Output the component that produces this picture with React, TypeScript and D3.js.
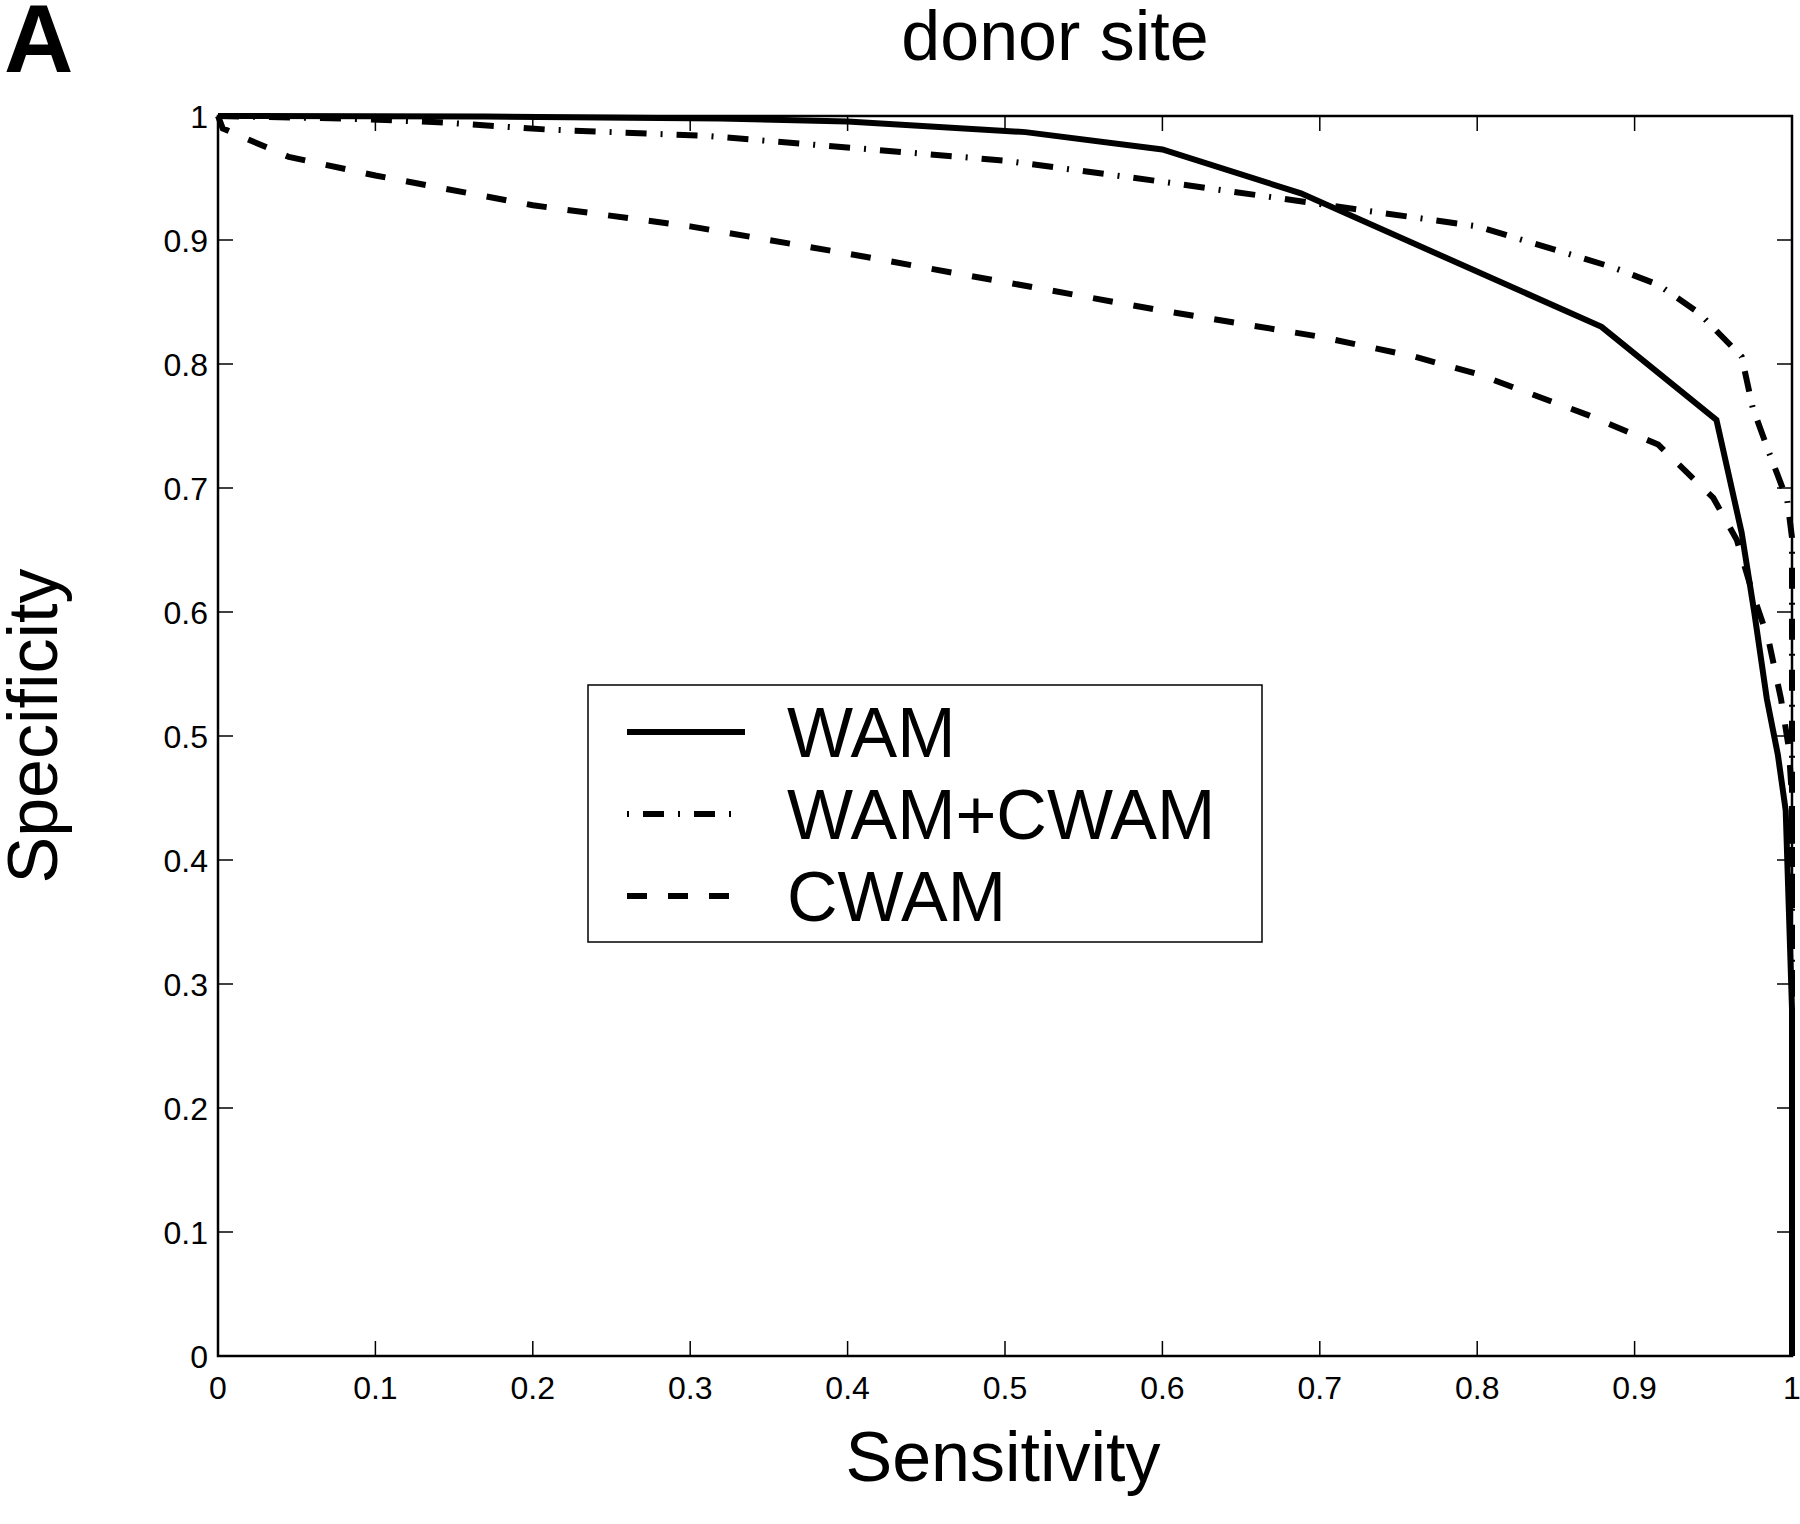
import React from "react";
import * as d3 from "d3";

// ---- data ----
const xTicks = [0, 0.1, 0.2, 0.3, 0.4, 0.5, 0.6, 0.7, 0.8, 0.9, 1];
const yTicks = [0, 0.1, 0.2, 0.3, 0.4, 0.5, 0.6, 0.7, 0.8, 0.9, 1];
const tickLabels = ["0", "0.1", "0.2", "0.3", "0.4", "0.5", "0.6", "0.7", "0.8", "0.9", "1"];

const wamSens = [0, 0.17, 0.319, 0.4, 0.513, 0.6, 0.688, 0.879, 0.952, 0.968, 0.976, 0.984, 0.991, 0.996, 0.998, 1, 1];
const wamSpec = [1, 0.9995, 0.998, 0.9955, 0.987, 0.973, 0.9376, 0.83, 0.755, 0.664, 0.6, 0.53, 0.485, 0.44, 0.36, 0.28, 0];

const comboSens = [0, 0.08, 0.14, 0.21, 0.31, 0.406, 0.5, 0.6, 0.7, 0.8, 0.855, 0.886, 0.915, 0.941, 0.968, 0.975, 0.985, 0.997, 1, 1];
const comboSpec = [1, 0.998, 0.995, 0.989, 0.984, 0.974, 0.964, 0.947, 0.929, 0.911, 0.89, 0.878, 0.864, 0.841, 0.806, 0.765, 0.73, 0.69, 0.66, 0];

const cwamSens = [0, 0.003, 0.045, 0.1, 0.2, 0.3, 0.4, 0.5, 0.6, 0.7, 0.76, 0.8, 0.87, 0.915, 0.95, 0.965, 0.975, 0.985, 0.993, 0.998, 1, 1];
const cwamSpec = [1, 0.99, 0.967, 0.952, 0.928, 0.911, 0.889, 0.866, 0.843, 0.822, 0.806, 0.792, 0.759, 0.735, 0.692, 0.658, 0.615, 0.578, 0.53, 0.49, 0.45, 0];

const seriesNames = ["WAM", "WAM+CWAM", "CWAM"];

const FONT = "'Liberation Sans', Arial, Helvetica, sans-serif";

export default function App() {
  const W = 1800;
  const H = 1524;
  const x = d3.scaleLinear().domain([0, 1]).range([218, 1792]);
  const y = d3.scaleLinear().domain([0, 1]).range([1356, 116]);
  const line = d3
    .line<[number, number]>()
    .x((d) => x(d[0]))
    .y((d) => y(d[1]));

  const zip = (a: number[], b: number[]) => a.map((v, i) => [v, b[i]] as [number, number]);

  const series = [
    { name: seriesNames[0], pts: zip(wamSens, wamSpec), dash: "none" },
    { name: seriesNames[1], pts: zip(comboSens, comboSpec), dash: "21,14,2,14" },
    { name: seriesNames[2], pts: zip(cwamSens, cwamSpec), dash: "20,21" },
  ];

  const x0 = x(0), x1 = x(1), y0 = y(0), y1 = y(1);
  const tickLen = 15;

  const legX = 588, legY = 685, legW = 674, legH = 257;
  const rowY = [732, 814, 896];

  return (
    <svg
      width={W}
      height={H}
      viewBox={`0 0 ${W} ${H}`}
      style={{ position: "absolute", left: 0, top: 0, display: "block", background: "#fff" }}
      fontFamily={FONT}
    >
      <rect x={0} y={0} width={W} height={H} fill="#fff" />
      {/* panel letter and title */}
      <text x={4} y={72} fontSize={96} fontWeight="bold" fill="#000">A</text>
      <text x={1055} y={60} fontSize={70} textAnchor="middle" fill="#000">donor site</text>

      {/* ticks */}
      <g stroke="#000" strokeWidth={1.5}>
        {xTicks.map((t, i) => (
          <g key={"xt" + i}>
            <line x1={x(t)} x2={x(t)} y1={y0} y2={y0 - tickLen} />
            <line x1={x(t)} x2={x(t)} y1={y1} y2={y1 + tickLen} />
          </g>
        ))}
        {yTicks.map((t, i) => (
          <g key={"yt" + i}>
            <line x1={x0} x2={x0 + tickLen} y1={y(t)} y2={y(t)} />
            <line x1={x1} x2={x1 - tickLen} y1={y(t)} y2={y(t)} />
          </g>
        ))}
      </g>

      {/* tick labels */}
      <g fontSize={32} fill="#000">
        {xTicks.map((t, i) => (
          <text key={"xl" + i} x={x(t)} y={1399} textAnchor="middle">{tickLabels[i]}</text>
        ))}
        {yTicks.map((t, i) => (
          <text key={"yl" + i} x={208} y={y(t) + 11.5} textAnchor="end">{tickLabels[i]}</text>
        ))}
      </g>

      {/* series */}
      <g fill="none" stroke="#000" strokeWidth={6} strokeLinejoin="miter" strokeLinecap="butt">
        {series.map((s) => (
          <path key={s.name} d={line(s.pts) || ""} strokeDasharray={s.dash} />
        ))}
      </g>

      {/* frame */}
      <rect x={x0} y={y1} width={x1 - x0} height={y0 - y1} fill="none" stroke="#000" strokeWidth={2.5} />

      {/* axis labels */}
      <text x={1003} y={1481} fontSize={70} textAnchor="middle" fill="#000">Sensitivity</text>
      <text
        transform={`translate(57, 726) rotate(-90)`}
        fontSize={70}
        textAnchor="middle"
        fill="#000"
      >
        Specificity
      </text>

      {/* legend */}
      <rect x={legX} y={legY} width={legW} height={legH} fill="#fff" stroke="#000" strokeWidth={1.5} />
      {series.map((s, i) => (
        <g key={"lg" + i}>
          <line
            x1={627}
            x2={s.dash === "20,21" ? 734 : s.dash === "none" ? 745 : 732}
            y1={rowY[i]}
            y2={rowY[i]}
            stroke="#000"
            strokeWidth={6}
            strokeDasharray={s.dash === "21,14,2,14" ? "2,14,21,14,2,14,21,14,2" : s.dash}
          />
          <text x={787} y={rowY[i] + 25} fontSize={70} fill="#000">{s.name}</text>
        </g>
      ))}
    </svg>
  );
}
